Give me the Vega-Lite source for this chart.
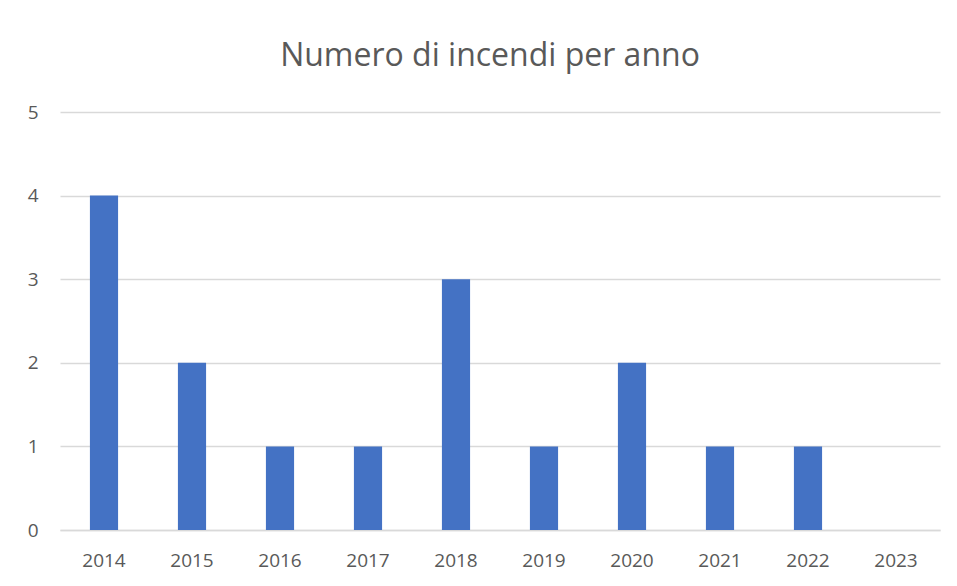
{
  "$schema": "https://vega.github.io/schema/vega-lite/v6.json",
  "width": 880,
  "height": 418,
  "autosize": {"type": "none"},
  "padding": {"left": 60, "top": 112, "right": 17, "bottom": 56},
  "background": "white",
  "title": {
    "text": "Numero di incendi per anno",
    "font": "Open Sans",
    "fontSize": 32,
    "fontWeight": "normal",
    "color": "#595959",
    "anchor": "middle",
    "dx": -10,
    "offset": 30
  },
  "data": {
    "values": [
      {"anno": "2014", "incendi": 4},
      {"anno": "2015", "incendi": 2},
      {"anno": "2016", "incendi": 1},
      {"anno": "2017", "incendi": 1},
      {"anno": "2018", "incendi": 3},
      {"anno": "2019", "incendi": 1},
      {"anno": "2020", "incendi": 2},
      {"anno": "2021", "incendi": 1},
      {"anno": "2022", "incendi": 1},
      {"anno": "2023", "incendi": 0}
    ]
  },
  "mark": {"type": "bar", "color": "#4472C4"},
  "encoding": {
    "x": {
      "field": "anno",
      "type": "ordinal",
      "scale": {"paddingInner": 0.68, "paddingOuter": 0.34},
      "axis": {
        "title": null,
        "labelAngle": 0,
        "ticks": false,
        "domainColor": "#d9d9d9",
        "domainWidth": 1.5,
        "labelFont": "Open Sans",
        "labelFontSize": 19,
        "labelColor": "#595959",
        "labelPadding": 21
      }
    },
    "y": {
      "field": "incendi",
      "type": "quantitative",
      "scale": {"domain": [0, 5], "nice": false},
      "axis": {
        "title": null,
        "values": [0, 1, 2, 3, 4, 5],
        "labelOverlap": false,
        "domain": false,
        "ticks": false,
        "gridColor": "#d9d9d9",
        "gridWidth": 1.5,
        "labelFont": "Open Sans",
        "labelFontSize": 19,
        "labelColor": "#595959",
        "labelPadding": 22
      }
    }
  },
  "config": {"view": {"stroke": null}}
}
